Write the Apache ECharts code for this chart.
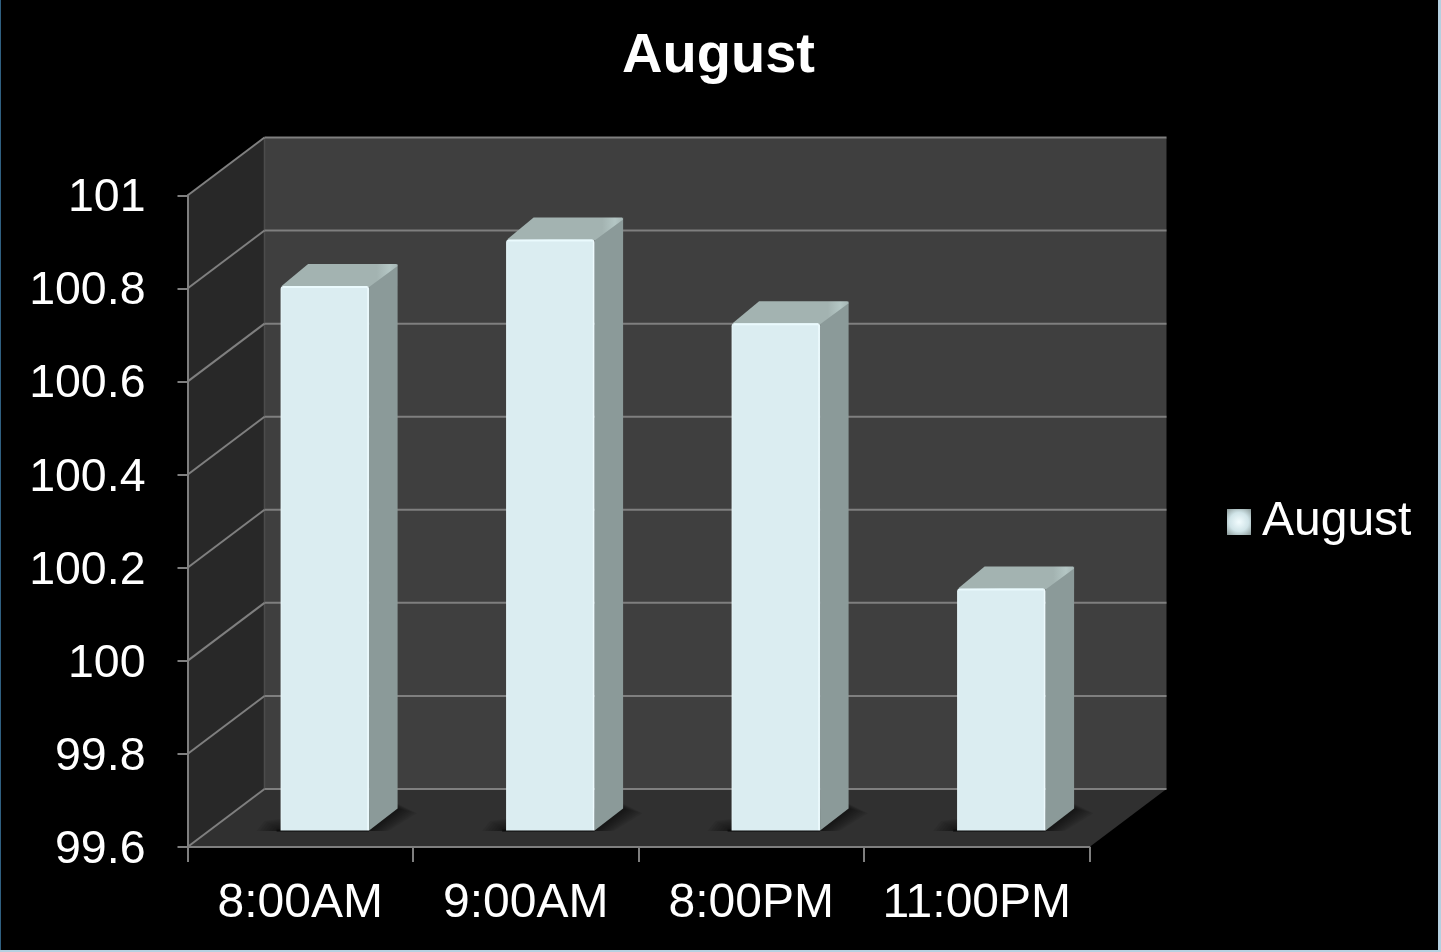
<!DOCTYPE html>
<html>
<head>
<meta charset="utf-8">
<style>html,body{margin:0;padding:0;background:#000}#c{width:1441px;height:952px}</style>
<script src="https://cdn.jsdelivr.net/npm/echarts@6/dist/echarts.min.js"></script>
</head>
<body>
<div id="c"></div>
<script>
var titleText = 'August';
var seriesName = 'August';
var categories = ['8:00AM', '9:00AM', '8:00PM', '11:00PM'];
var values = [100.77, 100.87, 100.69, 100.12];
var yMin = 99.6, yMax = 101, yStep = 0.2;
var yTicks = [99.6, 99.8, 100, 100.2, 100.4, 100.6, 100.8, 101];

var font = '"Liberation Sans", Arial, sans-serif';
var wallDX = 77, wallDY = -58;
var barDX = 24.6, barDY = -16.5, barW = 88.5, barDepthX = 28.5, barDepthY = -22;
var lineCol = '#7f7f7f';

function renderWalls(params, api) {
  var band = api.size([1, 0])[0];
  var n = categories.length;
  var bl = api.coord([0, yMin]); var L = bl[0] - band / 2, B = bl[1];
  var R = api.coord([n - 1, yMin])[0] + band / 2;
  var T = api.coord([0, yMax])[1];
  var kids = [
    {type: 'polygon', shape: {points: [[L + wallDX, T + wallDY], [R + wallDX, T + wallDY], [R + wallDX, B + wallDY], [L + wallDX, B + wallDY]]}, style: {fill: '#3f3f3f'}},
    {type: 'polygon', shape: {points: [[L, T], [L + wallDX, T + wallDY], [L + wallDX, B + wallDY], [L, B]]}, style: {fill: '#282828'}},
    {type: 'polygon', shape: {points: [[L, B], [L + wallDX, B + wallDY], [R + wallDX, B + wallDY], [R, B]]}, style: {fill: '#303030'}},
    {type: 'line', shape: {x1: L + wallDX, y1: T + wallDY, x2: L + wallDX, y2: B + wallDY}, style: {stroke: '#4c4c4c', lineWidth: 1.5}}
  ];
  yTicks.forEach(function (t) {
    var y = api.coord([0, t])[1];
    kids.push({type: 'line', shape: {x1: L, y1: y, x2: L + wallDX, y2: y + wallDY}, style: {stroke: lineCol, lineWidth: 2}});
    kids.push({type: 'line', shape: {x1: L + wallDX, y1: y + wallDY, x2: R + wallDX, y2: y + wallDY}, style: {stroke: lineCol, lineWidth: 2}});
  });
  return {type: 'group', children: kids};
}

function renderBar(params, api) {
  var i = api.value(0), v = api.value(1);
  var base = api.coord([i, yMin]), top = api.coord([i, v]);
  var x0 = base[0] + barDX - barW / 2, x1 = x0 + barW;
  var yb = base[1] + barDY, yt = top[1] + barDY;
  var dx = barDepthX, dy = barDepthY;
  var kids = [];
  // soft floor shadow: stacked translucent layers, widest first
  for (var k = 8; k >= 1; k--) {
    kids.push({type: 'polygon', shape: {points: [
      [x0 - 3 * k, yb + 0.5], [x0 - 2 * k, yb - 1.2 * k], [x1 + dx, yb + dy - 0.6 * k],
      [x1 + dx + 2.4 * k, yb + dy + 0.6 * k], [x1 + 2.4 * k, yb + 0.5]
    ]}, style: {fill: 'rgba(0,0,0,0.075)'}});
  }
  kids.push(
    {type: 'rect', shape: {x: x0 - 4, y: yb - 1, width: barW + 4, height: 2.5}, style: {fill: 'rgba(0,0,0,0.4)'}},
    {type: 'polygon', shape: {points: [[x1, yt], [x1 + dx, yt + dy], [x1 + dx, yb + dy], [x1, yb]]},
      style: {fill: '#8b9a99'}},
    {type: 'polygon', shape: {points: [[x0 + 1, yt], [x0 + dx - 1, yt + dy], [x1 + dx - 1, yt + dy], [x1 + dx, yt + dy + 2], [x1, yt + 1]]},
      style: {fill: new echarts.graphic.LinearGradient(0, 0, 1, 0, [
        {offset: 0, color: '#a3b3b1'}, {offset: 0.82, color: '#a3b3b1'}, {offset: 0.93, color: '#b4c6c4'}, {offset: 1, color: '#a6b6b5'}
      ])}},
    {type: 'rect', shape: {x: x0, y: yt, width: barW, height: yb - yt, r: [3, 3, 0, 0]},
      style: {fill: new echarts.graphic.LinearGradient(0, 0, 1, 0, [
        {offset: 0, color: '#e6f6f9'}, {offset: 0.02, color: '#dbedf1'}, {offset: 0.975, color: '#dbedf1'}, {offset: 0.985, color: '#effcff'}, {offset: 1, color: '#e4f5f8'}
      ])}},
    {type: 'line', shape: {x1: x0 + 2, y1: yt + 1, x2: x1 - 2, y2: yt + 1}, style: {stroke: '#eafafd', lineWidth: 2}}
  );
  return {type: 'group', children: kids};
}

var swatch = {type: 'radial', x: 0.5, y: 0.5, r: 0.72, colorStops: [
  {offset: 0, color: '#f2fcfe'}, {offset: 0.55, color: '#d0e4e8'}, {offset: 1, color: '#8b9a99'}
]};

var chart = echarts.init(document.getElementById('c'), null, {renderer: 'canvas', width: 1441, height: 952});
chart.setOption({
  animation: false,
  backgroundColor: '#000',
  textStyle: {fontFamily: font},
  title: {
    text: titleText, left: 718.5, top: 29, padding: 0, textAlign: 'center',
    textStyle: {color: '#fff', fontSize: 56, fontWeight: 'bold', fontFamily: font}
  },
  legend: {
    show: true, left: 1227, top: 498, padding: 0, orient: 'vertical', itemWidth: 24, itemHeight: 26, itemGap: 0,
    selectedMode: false,
    data: [{name: seriesName, icon: 'rect', itemStyle: {color: swatch}}],
    textStyle: {color: '#fff', fontSize: 48, fontFamily: font, padding: [0, 0, 0, 6]}
  },
  grid: {left: 187.5, top: 195.5, width: 902, height: 651.5, containLabel: false},
  xAxis: {
    type: 'category', data: categories, z: 5,
    axisLine: {lineStyle: {color: lineCol, width: 2}},
    axisTick: {show: true, alignWithLabel: false, length: 15, lineStyle: {color: lineCol, width: 2}},
    axisLabel: {color: '#fff', fontSize: 48, fontFamily: font, margin: 33, interval: 0}
  },
  yAxis: {
    type: 'value', min: yMin, max: yMax, interval: yStep, z: 5,
    axisLine: {show: true, lineStyle: {color: lineCol, width: 2}},
    axisTick: {show: true, length: 10, lineStyle: {color: lineCol, width: 2}},
    splitLine: {show: false},
    axisLabel: {
      color: '#fff', fontSize: 47, fontFamily: font, margin: 42,
      formatter: function (v) { return '{t|' + v + '}'; },
      rich: {t: {color: '#fff', fontSize: 46.5, fontFamily: font, padding: [6, 0, 0, 0]}}
    }
  },
  series: [
    {type: 'custom', name: 'walls', silent: true, z: 1, renderItem: renderWalls, data: [[0, yMin]], encode: {x: 0, y: 1}},
    {type: 'custom', name: seriesName, silent: true, z: 2, renderItem: renderBar, itemStyle: {color: '#dbedf1'},
      data: categories.map(function (c, i) { return [i, values[i]]; }), encode: {x: 0, y: 1}}
  ],
  graphic: [
    {type: 'rect', left: 0, top: 0, shape: {width: 1, height: 952}, style: {fill: '#2f5f80'}, z: 20},
    {type: 'rect', left: 1438, top: 0, shape: {width: 3, height: 952}, style: {fill: '#b5d0e0'}, z: 20},
    {type: 'rect', left: 0, top: 950, shape: {width: 1441, height: 2}, style: {fill: '#b5d0e0'}, z: 20}
  ]
});
</script>
</body>
</html>
